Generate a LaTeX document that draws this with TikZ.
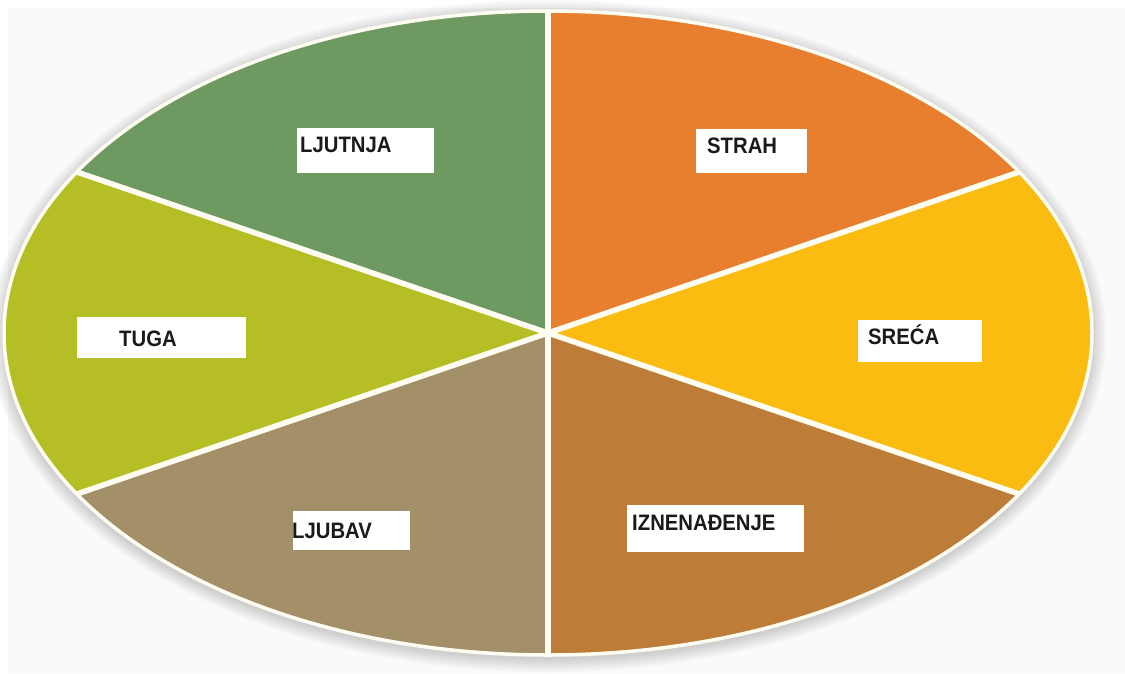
\documentclass[tikz,border=0pt]{standalone}
\usepackage{fontspec}
\usepackage{graphicx}
\setmainfont{Liberation Sans}
\definecolor{cLjutnja}{HTML}{6E9A62}
\definecolor{cStrah}{HTML}{E77F2F}
\definecolor{cSreca}{HTML}{FBBC12}
\definecolor{cIzn}{HTML}{BD7D38}
\definecolor{cLjubav}{HTML}{A39069}
\definecolor{cTuga}{HTML}{B6BE25}
\definecolor{cLine}{HTML}{FFFDF2}
\definecolor{cText}{HTML}{1A1A1A}
\definecolor{cBg}{HTML}{FAFAFA}
\tikzset{
  lblbox/.style={rectangle, fill=white, draw=none, inner sep=0pt},
  lbltxt/.style={inner sep=0pt, font=\fontsize{20.3}{22}\selectfont\bfseries, text=cText},
  divider/.style={draw=cLine, line width=5.5pt},
}
\newcommand{\pieslice}[3]{%
  \fill[#3] (548,333) -- plot[domain=#1:#2, samples=80] ({548+544*cos(\x)}, {333+322*sin(\x)}) -- cycle;}
\newcommand{\lbl}[1]{\scalebox{1}[1.1]{#1}}
\begin{document}
\begin{tikzpicture}[x=1pt, y=-1pt]
\useasboundingbox (0,0) rectangle (1125,673);
\fill[white] (0,0) rectangle (1125,673);
\fill[cBg] (8,8) rectangle (1125,673);
% soft shadow
\foreach \r in {14,12,...,2} {
  \fill[black, opacity=0.022] (548,336) ellipse [x radius=544+\r, y radius=322+\r];
}
% slices
\pieslice{-90}{-30}{cStrah}
\pieslice{-30}{30}{cSreca}
\pieslice{30}{90}{cIzn}
\pieslice{90}{150}{cLjubav}
\pieslice{150}{210}{cTuga}
\pieslice{210}{270}{cLjutnja}
% centre and rim points
\coordinate (c) at (548,333);
\coordinate (p90) at ({548+544*cos(-90)}, {333+322*sin(-90)});
\coordinate (p30) at ({548+544*cos(-30)}, {333+322*sin(-30)});
\coordinate (m30) at ({548+544*cos(30)}, {333+322*sin(30)});
\coordinate (m90) at ({548+544*cos(90)}, {333+322*sin(90)});
\coordinate (m150) at ({548+544*cos(150)}, {333+322*sin(150)});
\coordinate (p150) at ({548+544*cos(210)}, {333+322*sin(210)});
\foreach \p in {p90,p30,m30,m90,m150,p150} {
  \draw[divider] (c) -- (\p);
}
\draw[cLine, line width=3.5pt] (548,333) ellipse [x radius=544, y radius=322];
% labels
\node[lblbox, minimum width=137pt, minimum height=45pt] (bLjutnja) at (365.5,150.5) {};
\node[lbltxt, anchor=base west] (tLjutnja) at (300,152) {\lbl{LJUTNJA}};
\node[lblbox, minimum width=111pt, minimum height=44pt] (bStrah) at (751.5,151) {};
\node[lbltxt, anchor=base west] (tStrah) at (707,153) {\lbl{STRAH}};
\node[lblbox, minimum width=124pt, minimum height=42pt] (bSreca) at (920,341) {};
\node[lbltxt, anchor=base west] (tSreca) at (868,344) {\lbl{SREĆA}};
\node[lblbox, minimum width=169pt, minimum height=41pt] (bTuga) at (161.5,337.5) {};
\node[lbltxt, anchor=base west] (tTuga) at (119,346) {\lbl{TUGA}};
\node[lblbox, minimum width=117pt, minimum height=39pt] (bLjubav) at (351.5,530.5) {};
\node[lbltxt, anchor=base west] (tLjubav) at (292,538) {\lbl{LJUBAV}};
\node[lblbox, minimum width=177pt, minimum height=47pt] (bIzn) at (715.5,528.5) {};
\node[lbltxt, anchor=base west] (tIzn) at (632,530) {\lbl{IZNENAĐENJE}};
\end{tikzpicture}
\end{document}
